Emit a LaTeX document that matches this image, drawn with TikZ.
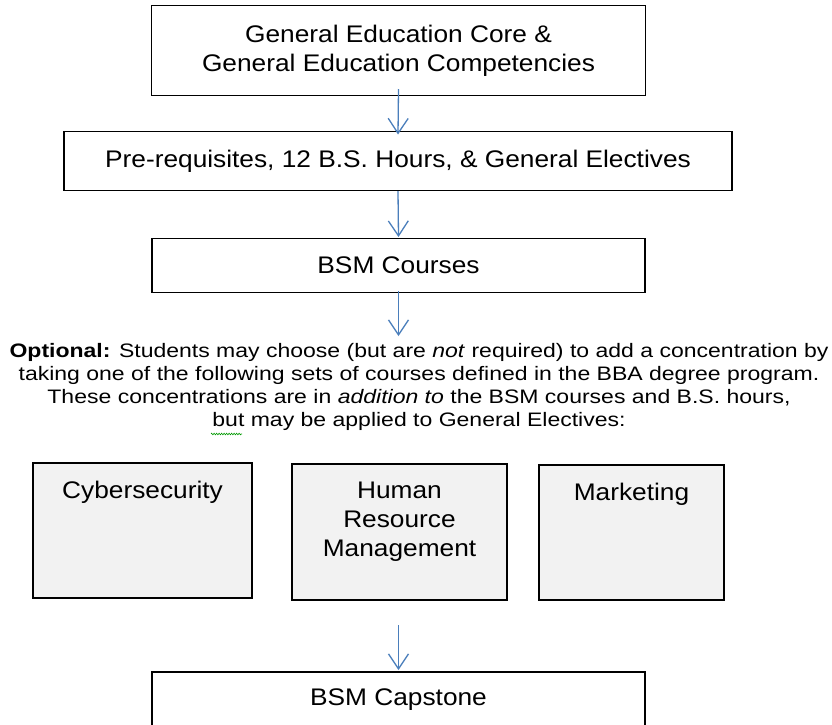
\documentclass[tikz,border=0pt]{standalone}
\usepackage{fontspec}
\setmainfont{Liberation Sans}[FakeStretch=1.095]
\newfontfamily\parafont{Liberation Sans}[FakeStretch=1.18]
\usetikzlibrary{arrows.meta,%
		calc,%
		decorations.pathmorphing,%
		positioning}
\definecolor{bluarrow}{HTML}{4A7EBB}
\definecolor{grigio}{HTML}{F2F2F2}
\tikzset{scatola/.style={draw, line width=1.5pt, inner sep=0pt, outer sep=0pt,
		align=center, font=\fontsize{24}{29}\selectfont},
	concbox/.style={scatola, fill=grigio, anchor=north, text height=35pt},
	freccia/.style={draw=bluarrow, line width=1.3pt,
		-{Straight Barb[length=15pt,width=20pt]}}}

\begin{document}
\begin{tikzpicture}[x=1pt,y=-1pt]
\useasboundingbox (0,0) rectangle (832,724);
\clip (0,0) rectangle (832,724);
%livelli
\node[scatola, minimum width=494pt, minimum height=90pt] (gened) at (398.5,50.5)
	{General Education Core \&\\General Education Competencies};
\node[scatola, minimum width=668pt, minimum height=59pt] (prereq) at (398,161)
	{Pre-requisites, 12 B.S. Hours, \& General Electives};
\node[scatola, minimum width=493pt, minimum height=54pt] (bsm) at (398.5,265.5)
	{BSM Courses};
%testo opzionale
\node[align=center, inner sep=0pt, font=\parafont\fontsize{19.5}{23}\selectfont] (opz) at (419,387)
	{\textbf{Optional:} Students may choose (but are \textit{not} required) to add a concentration by\\
	taking one of the following sets of courses defined in the BBA degree program.\\
	These concentrations are in \textit{addition to} the BSM courses and B.S. hours,\\
	but may be applied to General Electives:};
\draw[green!60!black, line width=0.6pt, decorate, decoration={zigzag, segment length=2.5pt, amplitude=0.8pt}]
	(211,434) -- (242,434);
%concentrazioni
\node[concbox, minimum width=219pt, text depth=100pt] (cyber) at (142.5,463) {Cybersecurity};
\node[concbox, minimum width=215pt, text height=92pt, text depth=44pt] (hrm) at (399.5,464) {Human\\Resource\\Management};
\node[concbox, minimum width=185pt, text depth=100pt] (mkt) at (631.5,465) {Marketing};
%capstone
\node[scatola, anchor=north, minimum width=493pt, text height=33.5pt, text depth=40pt] (cap) at (398.5,672)
	{BSM Capstone};
\coordinate (fine3) at (398.5,336);
\coordinate (inizio4) at (398.5,625);
%frecce
\draw[freccia] ($(gened.south)+(0,-6.5)$) -- ($(prereq.north)+(0,3)$);
\draw[freccia] ($(prereq.south)+(0,0.5)$) -- ($(bsm.north)+(0,-1.5)$);
\draw[freccia] ($(bsm.south)+(0,-1.5)$) -- (fine3);
\draw[freccia] (inizio4) -- ($(cap.north)+(0,-2)$);
\end{tikzpicture}
\end{document}
